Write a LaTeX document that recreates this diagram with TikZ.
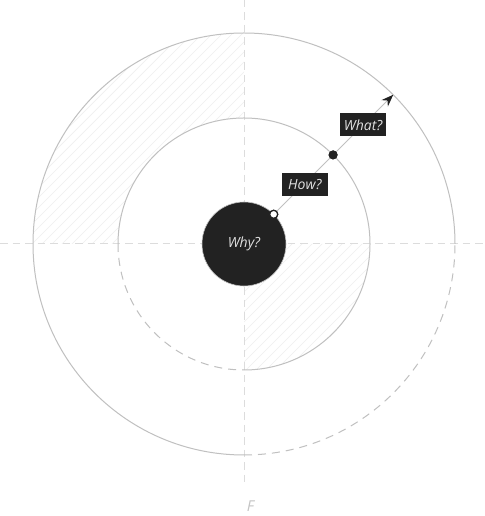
\documentclass[tikz,border=0pt]{standalone}
\usepackage{fontspec}
\setmainfont{Open Sans}
\usetikzlibrary{arrows.meta,calc}
\definecolor{ink}{HTML}{222222}
\definecolor{ring}{HTML}{C0C0C0}
\definecolor{axis}{HTML}{DCDCDC}
\definecolor{hatch}{HTML}{EFEFEF}
\definecolor{labeltext}{HTML}{E2E2E2}
\definecolor{ftext}{HTML}{C4C4C4}
\tikzset{
  ringline/.style={draw=ring, line width=1pt},
  ringdash/.style={draw=ring, line width=1pt, dash pattern=on 8pt off 6pt},
  axisline/.style={draw=axis, line width=1pt, dash pattern=on 7.5pt off 5pt},
  hatchline/.style={draw=hatch, line width=0.7pt},
  tagbox/.style={fill=ink, text=labeltext, font=\fontsize{14}{16}\selectfont\itshape,
    minimum width=46pt, minimum height=23pt, inner sep=0pt},
  hub/.style={circle, fill=ink, draw=ring, line width=0.6pt, minimum size=84pt, inner sep=0pt,
    text=labeltext, font=\fontsize{14}{16}\selectfont\itshape},
  hollowdot/.style={circle, fill=white, draw=ink, line width=1.2pt, minimum size=8pt, inner sep=0pt},
  soliddot/.style={circle, fill=ink, minimum size=9pt, inner sep=0pt},
  flabel/.style={text=ftext, font=\fontsize{15}{17}\selectfont\itshape, inner sep=0pt}
}
\begin{document}
\begin{tikzpicture}[x=1pt,y=1pt]
\useasboundingbox (0,0) rectangle (484,516);
\fill[white] (0,0) rectangle (484,516);
\coordinate (O) at (244,272);

% hatching: upper-left outer annulus
\begin{scope}
  \clip ($(O)+(0,211)$) arc[start angle=90, end angle=180, radius=211]
        -- ($(O)+(-126,0)$) arc[start angle=180, end angle=90, radius=126] -- cycle;
  \foreach \c in {-520,-510,...,490} \draw[hatchline] (\c,0) -- ++(520,520);
\end{scope}
% hatching: lower-right inside middle circle
\begin{scope}
  \clip (O) -- ($(O)+(126,0)$) arc[start angle=0, end angle=-90, radius=126] -- cycle;
  \foreach \c in {-520,-510,...,490} \draw[hatchline] (\c,0) -- ++(520,520);
\end{scope}

% axes
\coordinate (hl) at (0,272);
\coordinate (hr) at (484,272);
\coordinate (vt) at (244,516);
\coordinate (vb) at (244,31);
\draw[axisline] (hl) -- (hr);
\draw[axisline] (vt) -- (vb);

% outer circle
\draw[ringline] ($(O)+(211,0)$) arc[start angle=0, end angle=270, radius=211];
\draw[ringdash] ($(O)+(0,-211)$) arc[start angle=270, end angle=360, radius=211];
% middle circle
\draw[ringline] ($(O)+(0,-126)$) arc[start angle=-90, end angle=180, radius=126];
\draw[ringdash] ($(O)+(-126,0)$) arc[start angle=180, end angle=270, radius=126];

% hub
\node[hub] (why) at (O) {Why?};

\coordinate (p3) at ($(O)+(45:211)$);
\node[hollowdot] (p1) at ($(O)+(45:42)$) {};
\node[soliddot] (p2) at ($(O)+(45:126)$) {};

\draw[draw=ring, line width=1pt] (p1) -- (p2);
\draw[draw=ring, line width=1pt, -{Stealth[length=12pt, width=9pt, color=ink]}] (p2) -- (p3);
\node[hollowdot] at (p1) {};
\node[soliddot] at (p2) {};

\node[tagbox] (how) at ($(p1)!0.5!(p2)+(1.5,0)$) {How?};
\node[tagbox] (what) at ($(p2)!0.5!(p3)$) {What?};

\node[flabel, anchor=base] (F) at (250.5,4.5) {F};
\end{tikzpicture}
\end{document}
